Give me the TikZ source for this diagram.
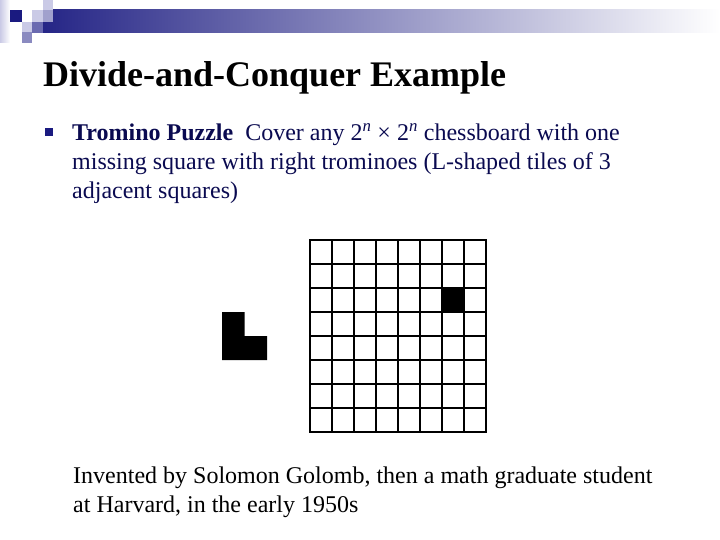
\documentclass[tikz,border=0pt]{standalone}
\usepackage{fontspec}
\setmainfont{Liberation Serif}
\usetikzlibrary{positioning}
\definecolor{logonavy}{HTML}{1A1A80}
\definecolor{logomid}{HTML}{6A6AB0}
\definecolor{logogrey}{HTML}{8A8AC0}
\definecolor{logolight}{HTML}{CACAE6}
\definecolor{bodyink}{HTML}{0A0A50}

\begin{document}
\begin{tikzpicture}[x=1pt,y=-1pt,
    titletext/.style={anchor=base west,inner sep=0pt,font=\fontsize{36}{40}\selectfont\bfseries},
    bodytext/.style={anchor=base west,inner sep=0pt,font=\fontsize{24}{28}\selectfont,text=bodyink},
    notetext/.style={anchor=base west,inner sep=0pt,font=\fontsize{24}{28}\selectfont},
    bulletbox/.style={fill=logonavy,minimum size=8pt,inner sep=0pt},
    boardline/.style={line width=1.6pt,line cap=rect}]
    % Definitions:
    \useasboundingbox (0,0) rectangle (720,540);
    \coordinate (board) at (310,240); % Top left corner of the board.
    % Drawing:
    \shade[left color=logolight,right color=white] (0,0) rectangle (10,43);
    \shade[left color=logonavy!95!white,middle color=logonavy!40!white,right color=white] (43,10) rectangle (720,33);
    \fill[logolight] (43,0) rectangle (53,10);
    \fill[logonavy] (10,10) rectangle (22,22);
    \fill[logolight] (32,10) rectangle (43,22);
    \fill[logogrey!80!white] (43,10) rectangle (53,22);
    \fill[logolight] (22,22) rectangle (32,32);
    \fill[logomid] (32,22) rectangle (43,33);
    \fill[logogrey] (22,32) rectangle (32,43);
    \begin{scope}[shift={(board)}]
      \fill (132,48) rectangle (154,72); % The missing square.
      \foreach \i in {0,...,8}{
        \draw[boardline] (22*\i,0) -- (22*\i,192);
        \draw[boardline] (0,24*\i) -- (176,24*\i);
      }
    \end{scope}
    \fill (222,312) -- (244.5,312) -- (244.5,336) -- (267,336) -- (267,360) -- (222,360) -- cycle;
    % Labels:
    \node[titletext] (title) at (43,87) {Divide-and-Conquer Example};
    \node[bulletbox] (bullet) at (48.5,132.5) {};
    \node[bodytext] (lineone) at (72,141) {\textbf{Tromino Puzzle}\ \ Cover any 2\textsuperscript{\textit{n}} × 2\textsuperscript{\textit{n}} chessboard with one};
    \node[bodytext] (linetwo) at (72,170) {missing square with right trominoes (L-shaped tiles of 3};
    \node[bodytext] (linethree) at (72,198.5) {adjacent squares)};
    \node[notetext] (noteone) at (73,483) {Invented by Solomon Golomb, then a math graduate student};
    \node[notetext] (notetwo) at (73,512) {at Harvard, in the early 1950s};
  \end{tikzpicture}
\end{document}
